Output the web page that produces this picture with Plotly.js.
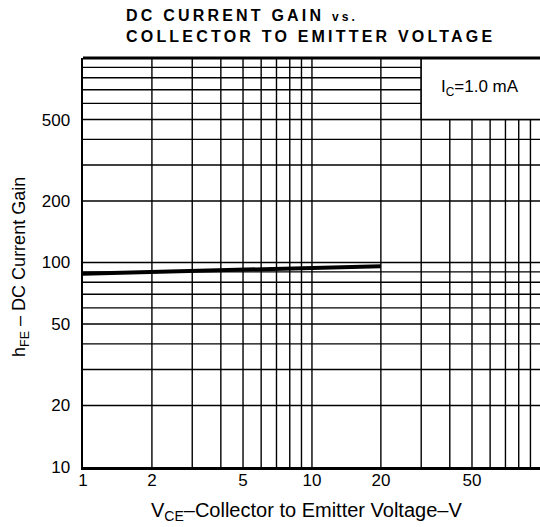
<!DOCTYPE html>
<html>
<head>
<meta charset="utf-8">
<script src="https://cdn.plot.ly/plotly-3.0.1.min.js"></script>
<style>html,body{margin:0;padding:0;background:#fff;}#chart{width:540px;height:527px;}</style>
</head>
<body>
<div id="chart"></div>
<script>
// Data
const vce = [1, 2, 5, 10, 20];
const hfe = [88, 89.8, 92, 93.8, 96];
const xTickVals = [1, 2, 5, 10, 20, 50];
const xTickText = ['1', '2', '5', '10', '20', '50'];
const yTickVals = [10, 20, 50, 100, 200, 500];
const yTickText = ['10', '20', '50', '100', '200', '500'];
const xGrid = [2,3,4,5,6,7,8,9,10,20,30,40,50,60,70,80,90];
const yGrid = [20,30,40,50,60,70,80,90,100,200,300,400,500,600,700,800,900];

const FONT = 'Liberation Sans, Arial, Helvetica, sans-serif';
const W = 540, H = 527, L = 83, R = 0, T = 58, B = 60;
const pw = W - L - R, ph = H - T - B;
const px = v => (v - L) / pw;          // pixel x -> paper x
const py = v => 1 - (v - T) / ph;      // pixel y -> paper y

const shapes = [];
xGrid.forEach(v => {
  const top = v > 30 ? 500 : 1000;
  shapes.push({type:'line', xref:'x', yref:'y', x0:v, x1:v, y0:10, y1:top,
    line:{color:'#000', width:1.4}, layer:'below'});
});
yGrid.forEach(v => {
  const right = v > 500 ? 30 : 100;
  shapes.push({type:'line', xref:'x', yref:'y', x0:1, x1:right, y0:v, y1:v,
    line:{color:'#000', width:1.4}, layer:'below'});
});

const data = [{
  x: vce, y: hfe, type: 'scatter', mode: 'lines',
  line: {color: '#000', width: 4}, hoverinfo: 'skip', showlegend: false
}];

const layout = {
  width: W, height: H,
  margin: {l: L, r: R, t: T, b: B, pad: 0},
  paper_bgcolor: '#fff', plot_bgcolor: '#fff',
  font: {family: FONT, color: '#000', size: 17},
  showlegend: false,
  xaxis: {
    type: 'log', range: [0, 1.996],
    tickvals: xTickVals, ticktext: xTickText,
    ticks: '', showgrid: false, zeroline: false,
    showline: true, linecolor: '#000', linewidth: 3, mirror: false,
    tickfont: {family: FONT, size: 17, color: '#000'},
    ticklabelstandoff: -4
  },
  yaxis: {
    type: 'log', range: [1, 3],
    tickvals: yTickVals, ticktext: yTickText,
    ticks: '', showgrid: false, zeroline: false,
    showline: true, linecolor: '#000', linewidth: 2.5, mirror: false,
    tickfont: {family: FONT, size: 17, color: '#000'},
    ticklabelstandoff: 7
  },
  shapes: shapes.concat([
    {type:'line', xref:'paper', yref:'paper', x0:0, x1:1, y0:1, y1:1, line:{color:'#000', width:3}},
    {type:'rect', xref:'x', yref:'y', x0:30, x1:100, y0:500, y1:1000,
      fillcolor:'#fff', line:{color:'#000', width:1.4}, layer:'below'}
  ]),
  annotations: [
    {xref:'paper', yref:'paper', x: px(124), y: py(5), xanchor:'left', yanchor:'top',
     align:'left', showarrow:false,
     font:{family: FONT, size: 16, color:'#000'},
     text:'<span style="letter-spacing:3.2px"><b>DC CURRENT GAIN</b> <span style="font-size:12px"><b>vs.</b></span></span><br><span style="letter-spacing:3.2px"><b>COLLECTOR TO EMITTER VOLTAGE</b></span>'},
    {xref:'paper', yref:'paper', x: px(480), y: py(88), xanchor:'center', yanchor:'middle',
     showarrow:false, font:{family: FONT, size: 17, color:'#000'},
     text:'I<sub>C</sub>=1.0 mA'},
    {xref:'paper', yref:'paper', x: px(306), y: py(512), xanchor:'center', yanchor:'middle',
     showarrow:false, font:{family: FONT, size: 20, color:'#000'},
     text:'V<sub>CE</sub>–Collector to Emitter Voltage–V'},
    {xref:'paper', yref:'paper', x: px(20), y: py(267), xanchor:'center', yanchor:'middle',
     textangle: -90, showarrow:false, font:{family: FONT, size: 18, color:'#000'},
     text:'h<sub>FE</sub> – DC Current Gain'}
  ]
};

Plotly.newPlot('chart', data, layout, {displayModeBar: false, staticPlot: true});
</script>
</body>
</html>
